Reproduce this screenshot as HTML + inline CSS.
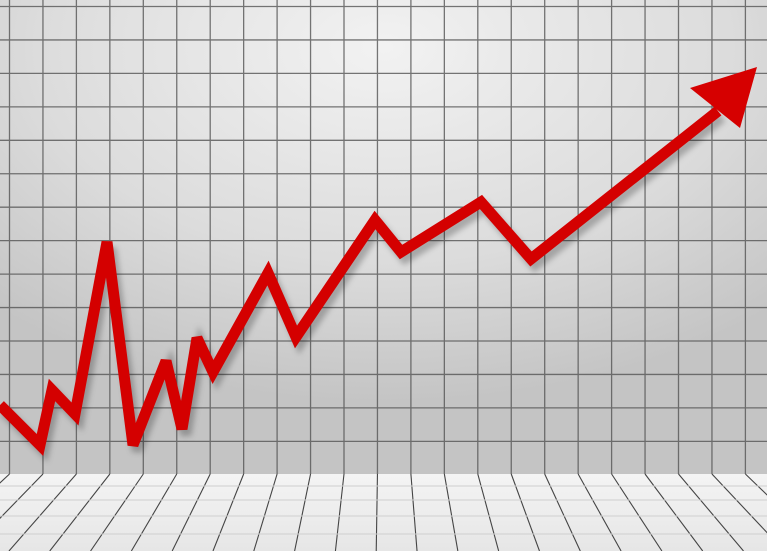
<!DOCTYPE html>
<html><head><meta charset="utf-8"><style>
html,body{margin:0;padding:0;width:767px;height:551px;overflow:hidden;background:#ddd}
</style></head><body>
<svg width="767" height="551" viewBox="0 0 767 551" xmlns="http://www.w3.org/2000/svg">
<defs>
<radialGradient id="wall" cx="0.5" cy="0.1" r="0.75">
<stop offset="0" stop-color="#f2f2f2"/><stop offset="0.6" stop-color="#dcdcdc"/><stop offset="1" stop-color="#c4c4c4"/>
</radialGradient>
<linearGradient id="floor" x1="0" y1="0" x2="0" y2="1">
<stop offset="0" stop-color="#f4f4f4"/><stop offset="1" stop-color="#e6e6e6"/>
</linearGradient>
<filter id="sh" x="-10%" y="-10%" width="120%" height="130%"><feGaussianBlur stdDeviation="3"/></filter>
</defs>
<rect width="767" height="474" fill="url(#wall)"/>
<g id="grid" stroke="#555" stroke-width="1.3" opacity="0.8"></g>
<rect y="474" width="767" height="77" fill="url(#floor)"/>
<g id="floorg"></g>
<polyline id="shadow" fill="none" stroke="#000" stroke-opacity="0.25" stroke-width="11" stroke-linejoin="miter" filter="url(#sh)"/>
<polyline id="line" fill="none" stroke="#d40000" stroke-width="11" stroke-linejoin="miter" stroke-miterlimit="3"/>
<polygon points="757,67 740,128 690,88" fill="#d60000"/>
</svg>
<script>
const xs=[0,40,52,75,107,133,166,182,197,213,268,296,375,401,481,531,718];
const ys=[405,445,390,414,242,445,361,429,338,372,273,337,220,252,202,259,111];
const pts=xs.map((x,i)=>x+','+ys[i]).join(' ');
document.getElementById('line').setAttribute('points',pts);
document.getElementById('shadow').setAttribute('points',xs.map((x,i)=>(x+4)+','+(ys[i]+6)).join(' '));
const NS='http://www.w3.org/2000/svg';
const g=document.getElementById('grid');
for(let x=9.5;x<767;x+=33.45){const l=document.createElementNS(NS,'line');


l.setAttribute('x1',x);l.setAttribute('x2',x);l.setAttribute('y1',0);l.setAttribute('y2',474);g.appendChild(l);}
for(let y=6.5;y<474;y+=33.45){const l=document.createElementNS(NS,'line');


l.setAttribute('x1',0);l.setAttribute('x2',767);l.setAttribute('y1',y);l.setAttribute('y2',y);g.appendChild(l);}
const f=document.getElementById('floorg');
for(let x=9.5-33.45*6;x<767+33.45*6;x+=33.45){const l=document.createElementNS(NS,'line');


const bx=383+(x-383)*1.22;
l.setAttribute('x1',x);l.setAttribute('x2',bx);l.setAttribute('y1',474);l.setAttribute('y2',551);
l.setAttribute('stroke','#444');l.setAttribute('stroke-width','1.1');f.appendChild(l);}
[486,500,516,534].forEach(y=>{const l=document.createElementNS(NS,'line');


l.setAttribute('x1',0);l.setAttribute('x2',767);l.setAttribute('y1',y);l.setAttribute('y2',y);
l.setAttribute('stroke','#cfcfcf');l.setAttribute('stroke-width','1');f.appendChild(l);});
</script>
</body></html>
